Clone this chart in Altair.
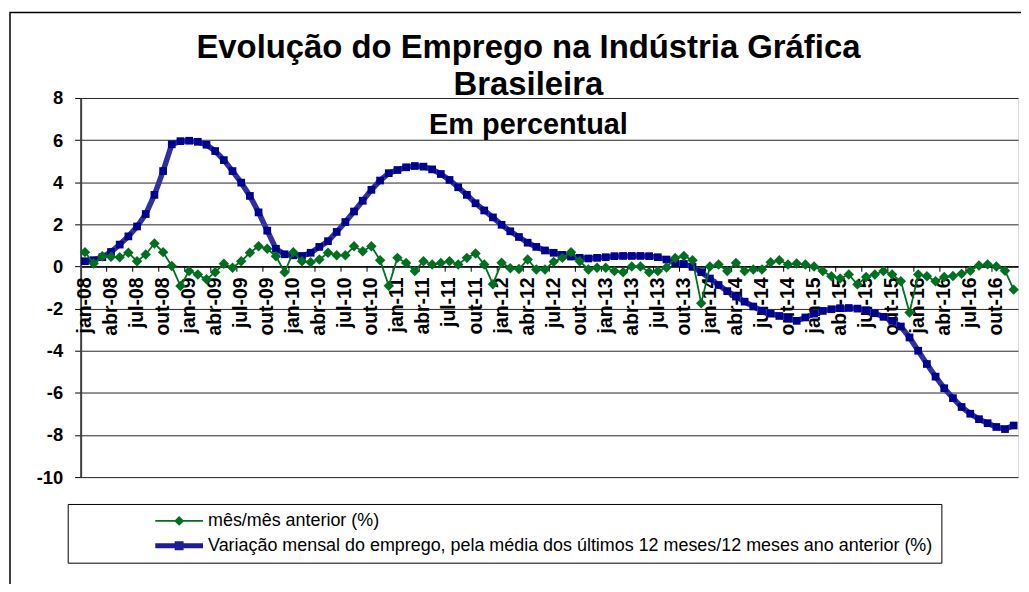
import altair as alt
import pandas as pd

# ---------------- data ----------------
rotulos_eixo = [
    "jan-08", "abr-08", "jul-08", "out-08",
    "jan-09", "abr-09", "jul-09", "out-09",
    "jan-10", "abr-10", "jul-10", "out-10",
    "jan-11", "abr-11", "jul-11", "out-11",
    "jan-12", "abr-12", "jul-12", "out-12",
    "jan-13", "abr-13", "jul-13", "out-13",
    "jan-14", "abr-14", "jul-14", "out-14",
    "jan-15", "abr-15", "jul-15", "out-15",
    "jan-16", "abr-16", "jul-16", "out-16",
]

# mês/mês anterior (%), jan-08 .. dez-16
mes_mes = [
    0.68, 0.14, 0.49, 0.46, 0.44, 0.65, 0.25, 0.57, 1.09, 0.68, 0.02, -0.93,
    -0.22, -0.38, -0.61, -0.27, 0.13, -0.06, 0.25, 0.65, 0.96, 0.84, 0.49, -0.27,
    0.68, 0.25, 0.20, 0.33, 0.65, 0.53, 0.53, 0.96, 0.72, 0.96, 0.30, -0.92,
    0.41, 0.17, -0.22, 0.25, 0.09, 0.17, 0.25, 0.09, 0.41, 0.62, 0.09, -0.84,
    0.18, -0.08, -0.12, 0.33, -0.14, -0.14, 0.22, 0.41, 0.68, 0.25, -0.14, -0.06,
    -0.06, -0.22, -0.27, 0.00, 0.00, -0.27, -0.22, -0.05, 0.40, 0.50, 0.30, -1.75,
    0.00, 0.09, -0.22, 0.17, -0.22, -0.14, -0.14, 0.20, 0.30, 0.09, 0.14, 0.09,
    0.00, -0.22, -0.46, -0.57, -0.38, -0.85, -0.50, -0.38, -0.22, -0.38, -0.70, -2.19,
    -0.38, -0.46, -0.70, -0.50, -0.45, -0.35, -0.20, 0.05, 0.10, 0.00, -0.20, -1.10,
]

# média dos últimos 12 meses / 12 meses ano anterior (%)
media_12m = [
    0.25, 0.30, 0.44, 0.69, 1.04, 1.43, 1.90, 2.49, 3.40, 4.53, 5.80, 5.95,
    5.97, 5.92, 5.78, 5.48, 5.05, 4.53, 3.98, 3.35, 2.57, 1.70, 0.84, 0.58,
    0.53, 0.50, 0.65, 0.93, 1.20, 1.64, 2.11, 2.61, 3.12, 3.64, 4.08, 4.43,
    4.58, 4.71, 4.77, 4.74, 4.61, 4.39, 4.11, 3.76, 3.40, 3.00, 2.66, 2.33,
    1.98, 1.67, 1.40, 1.13, 0.93, 0.76, 0.65, 0.55, 0.47, 0.41, 0.38, 0.41,
    0.44, 0.49, 0.50, 0.50, 0.50, 0.49, 0.44, 0.33, 0.20, 0.12, -0.02, -0.27,
    -0.57, -0.88, -1.17, -1.43, -1.67, -1.90, -2.11, -2.24, -2.35, -2.46, -2.58, -2.42,
    -2.24, -2.11, -2.03, -1.98, -1.97, -2.00, -2.08, -2.22, -2.39, -2.58, -2.85, -3.37,
    -4.00, -4.63, -5.23, -5.78, -6.25, -6.67, -6.99, -7.25, -7.44, -7.62, -7.72, -7.55,
]

serie_verde = "mês/mês anterior (%)"
serie_azul = "Variação mensal do emprego, pela média dos últimos 12 meses/12 meses ano anterior (%)"
subtitulo = "Em percentual"

# ---------------- styles ----------------
FONT = "Liberation Sans"
VERDE = "#007020"
AZUL_LINHA = "#30309E"
AZUL_PONTO = "#00008E"
AZUL_LEGENDA = "#1C1C98"

W, H = 942, 381
N = len(mes_mes)

df = pd.DataFrame({
    "pos": [i + 0.5 for i in range(N)],
    "mes_mes": mes_mes,
    "media": media_12m,
})
df_ticks = pd.DataFrame({"pos": list(range(3, N, 3))})
df_rot = pd.DataFrame({
    "pos": [i + 0.5 for i in range(0, N, 3)],
    "rotulo": rotulos_eixo,
})
df_one = pd.DataFrame({"t": [subtitulo]})

xs = alt.Scale(domain=[0, N], nice=False, zero=False)
ys = alt.Scale(domain=[-10, 8], nice=False, zero=False)

xaxis = alt.Axis(
    values=[0.5], labels=False, orient="bottom", offset=-(H * 10 / 18),
    ticks=False, tickSize=0, grid=False,
    domainColor="black", domainWidth=1.5, title=None,
)
yaxis = alt.Axis(
    values=list(range(-10, 9, 2)), grid=True, gridColor="#262626", gridWidth=1,
    domainColor="#404040", domainWidth=2, tickColor="black", tickSize=6,
    labelFont=FONT, labelFontSize=18.5, labelFontWeight="bold", labelColor="black",
    labelPadding=12, labelExpr="datum.value + ''", title=None,
)


def xdef():
    return alt.X("pos:Q", scale=xs, axis=xaxis)


def ydef(field):
    return alt.Y(field + ":Q", scale=ys, axis=yaxis)


base = alt.Chart(df)

frame = alt.Chart(pd.DataFrame({"a": [0]})).mark_rect(
    filled=False, stroke="black", strokeWidth=1.5
).encode(x=alt.value(-71), x2=alt.value(3000), y=alt.value(-86), y2=alt.value(3000))

ticks = alt.Chart(df_ticks).mark_rule(color="black", strokeWidth=1).encode(
    x=xdef(), y=alt.datum(0), y2=alt.datum(-0.25)
)

rotulos = alt.Chart(df_rot).mark_text(
    angle=270, align="right", baseline="middle",
    font=FONT, fontSize=19.5, fontWeight="bold", color="black",
).encode(x=xdef(), y=alt.datum(-0.52), text="rotulo:N")

azul_linha = base.mark_line(color=AZUL_LINHA, strokeWidth=5.5).encode(x=xdef(), y=ydef("media"))
azul_pontos = base.mark_square(color=AZUL_PONTO, size=60, opacity=1).encode(x=xdef(), y=ydef("media"))
verde_linha = base.mark_line(color=VERDE, strokeWidth=1.8).encode(x=xdef(), y=ydef("mes_mes"))
verde_pontos = base.mark_point(shape="diamond", filled=True, color=VERDE, size=110, opacity=1).encode(
    x=xdef(), y=ydef("mes_mes")
)

texto = alt.Chart(df_one).mark_text(
    font=FONT, fontSize=29, fontWeight="bold", color="black", align="center", baseline="alphabetic"
).encode(x=alt.datum(51.6), y=alt.datum(6.3), text="t:N")

# legend symbols: line + marker, drawn as custom paths
path_verde = "M-3,-0.11H3V0.11H-3Z M0,-0.62L0.62,0L0,0.62L-0.62,0Z"
path_azul = "M-3,-0.31H3V0.31H-3Z M-0.56,-0.56H0.56V0.56H-0.56Z"
dominio_leg = [serie_verde, serie_azul]
leg = alt.Legend(
    orient="none", legendX=-13, legendY=408, direction="vertical", title=None,
    strokeColor="black", fillColor="white", padding=8,
    labelFont=FONT, labelFontSize=18, labelColor="black", labelLimit=2000,
    symbolSize=256, symbolStrokeWidth=0, symbolOffset=95, labelOffset=20, rowPadding=7,
)
legenda = base.mark_point(filled=True, opacity=1).encode(
    x=xdef(), y=ydef("mes_mes"),
    color=alt.Color("serie:N", scale=alt.Scale(domain=dominio_leg, range=[VERDE, AZUL_LEGENDA]), legend=leg),
    shape=alt.Shape("serie:N", scale=alt.Scale(domain=dominio_leg, range=[path_verde, path_azul]), legend=leg),
).transform_filter("false").transform_calculate(serie="'x'")

chart = alt.layer(
    frame, ticks, rotulos, azul_linha, azul_pontos, verde_linha, verde_pontos, texto, legenda
).properties(
    width=W, height=H,
    title=alt.TitleParams(
        text=["Evolução do Emprego na Indústria Gráfica", "Brasileira"],
        font=FONT, fontSize=33, fontWeight="bold", color="black",
        anchor="middle", frame="group", baseline="bottom", lineHeight=37,
        offset=-123.75, dx=-21,
    ),
    autosize=alt.AutoSizeParams(type="none"),
    padding={"left": 73, "top": 89, "right": 3, "bottom": 106},
).configure_view(stroke="#808080", strokeWidth=2).configure(background="white")

chart.save("out.html", embed_options={"renderer": "svg", "actions": False})
